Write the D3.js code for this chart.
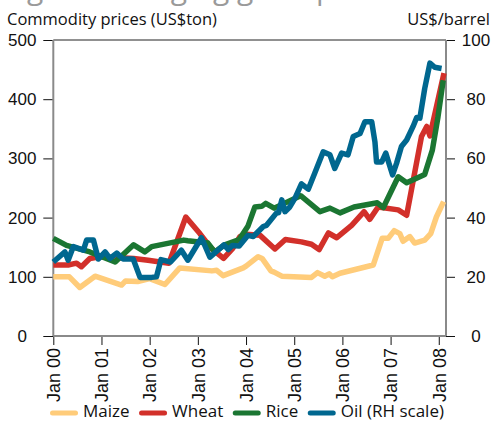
<!DOCTYPE html>
<html>
<head>
<meta charset="utf-8">
<script src="https://cdn.jsdelivr.net/npm/d3@7"></script>
<style>
  body { margin: 0; background: #fff; }
  svg { display: block; font-family: "Open Sans", "Noto Sans", sans-serif; }
</style>
</head>
<body>
<div id="chart"></div>
<script>
// ========== DATA ==========
// months counted from Jan 2000
const maizeMonths = [0, 4, 6.6, 10.4, 17, 18, 21, 24, 27.8, 31.5, 39.5, 40.7, 42.3, 47.3, 48, 51, 52, 54.2, 55, 56.9, 64.3, 65.8, 67.6, 68.7, 69.5, 71.4, 79.7, 81.9, 83.4, 84.9, 86.3, 87.1, 88.8, 90, 92.5, 94, 95.4, 97.2];
const maizeValues = [100, 100, 82, 101, 86, 93, 92, 97, 87, 115, 110, 111, 102, 115, 118, 134, 131, 110, 108, 101, 99, 107, 101, 105, 100, 106, 120, 165, 165, 178, 173, 160, 168, 157, 162, 173, 201, 227];

const wheatMonths = [0, 3.7, 5.8, 7, 9.1, 11.6, 20, 23.6, 28.8, 33, 36.5, 39.2, 42.4, 44.7, 46.5, 48, 51.5, 55.2, 57.8, 61.8, 64.3, 66.2, 68.5, 70.6, 74.3, 77.4, 78.8, 80.9, 85.9, 88, 91.7, 93, 93.8, 97.3];
const wheatValues = [120, 120, 123, 117, 131, 134, 131, 128, 123, 201, 173, 149, 131, 148, 168, 172, 170, 147, 163, 159, 155, 146, 174, 166, 187, 210, 197, 218, 213, 204, 337, 354, 338, 444];

const riceMonths = [0, 3.3, 9.1, 15.4, 20, 22.8, 24.5, 32.5, 33.5, 38.5, 40.2, 42.7, 46.3, 48.5, 50.2, 51.9, 52.9, 55, 61.6, 66.4, 68.9, 71.4, 74.9, 80.7, 82.2, 85.9, 88, 92.5, 94.4, 95.8, 97.1];
const riceValues = [165, 153, 142, 125, 154, 142, 151, 162, 161, 157, 142, 154, 163, 186, 218, 219, 224, 216, 237, 210, 216, 208, 218, 225, 217, 269, 259, 273, 314, 370, 432];

const oilMonths = [0, 2.9, 3.7, 5, 7.5, 8.3, 10, 11.2, 12.9, 14.1, 15.8, 17.4, 19.9, 21.6, 24.5, 25.7, 26.8, 29.2, 31.9, 33.5, 36.9, 39, 42.5, 43.6, 44.6, 46.3, 48.5, 49.8, 52.3, 53.1, 55.6, 56.1, 56.9, 57.7, 58.9, 60.2, 61.8, 63.5, 65.1, 67.2, 68.9, 70.1, 71.8, 73.4, 74.7, 76.4, 77.6, 79.3, 80.1, 80.5, 81.8, 82.8, 84.5, 85.5, 86.7, 88, 89.6, 90.5, 91.3, 92.5, 93.8, 95, 96.7];
const oilValues = [25, 28.4, 25.6, 30.2, 29, 32.4, 32.4, 26, 28.4, 26.2, 28, 26, 26, 19.8, 19.8, 20, 25.8, 25, 29, 25.6, 33.2, 26.6, 30.8, 29.2, 30.6, 30.4, 34, 33.6, 37, 37.4, 41.6, 41.6, 46, 42, 43.6, 46.6, 51.4, 49.6, 55, 62.2, 61.2, 56.6, 61.8, 61.2, 67.4, 68.4, 72.4, 72.4, 65.6, 58.8, 58.8, 61.8, 54.4, 58.4, 64, 66.2, 70.8, 73.8, 73.6, 83.6, 92.2, 90.8, 90.4];

const xTickMonths = [0, 12, 24, 36, 48, 60, 72, 84, 96];
const xTickLabels = ["Jan 00", "Jan 01", "Jan 02", "Jan 03", "Jan 04", "Jan 05", "Jan 06", "Jan 07", "Jan 08"];
const leftTicks = [0, 100, 200, 300, 400, 500];
const rightTicks = [0, 20, 40, 60, 80, 100];

const seriesNames = ["Maize", "Wheat", "Rice", "Oil (RH scale)"];
const seriesColors = ["#ffcc7a", "#d2302a", "#1b7632", "#00678f"];

// ========== CHART ==========
const width = 492, height = 421;
const plot = { left: 53.3, right: 446, top: 40, bottom: 336 };

const svg = d3.select("#chart").append("svg")
  .attr("width", width)
  .attr("height", height);

const x = d3.scaleLinear().domain([0, 97.8]).range([plot.left, plot.right]);
const yLeft = d3.scaleLinear().domain([0, 500]).range([plot.bottom, plot.top]);
const yRight = d3.scaleLinear().domain([0, 100]).range([plot.bottom, plot.top]);

// cut-off heading at the very top
svg.append("text")
  .attr("x", 4)
  .attr("y", -1)
  .style("font-size", "30px")
  .style("fill", "#9a9a9a")
  .text("Figure 1 Surging grain prices");

svg.append("text")
  .attr("x", 7)
  .attr("y", 25)
  .style("font-size", "16.5px")
  .style("fill", "#111")
  .text("Commodity prices (US$ton)");

svg.append("text")
  .attr("x", 490)
  .attr("y", 25)
  .attr("text-anchor", "end")
  .style("font-size", "16.5px")
  .style("fill", "#111")
  .text("US$/barrel");

// axes
function styleAxis(g, size) {
  g.select(".domain").remove();
  g.selectAll(".tick line").attr("stroke", "#111");
  g.selectAll(".tick text").style("font-size", size).attr("fill", "#111");
}

const leftAxis = svg.append("g")
  .attr("transform", `translate(${plot.left},0)`)
  .call(d3.axisLeft(yLeft).tickValues(leftTicks).tickSize(10))
  .call(styleAxis, "17px");
leftAxis.selectAll(".tick text").attr("x", -31).attr("text-anchor", "middle");

const rightAxis = svg.append("g")
  .attr("transform", `translate(${plot.right},0)`)
  .call(d3.axisRight(yRight).tickValues(rightTicks).tickSize(9))
  .call(styleAxis, "17px");
rightAxis.selectAll(".tick text").attr("x", 30).attr("text-anchor", "middle");

const bottomAxis = svg.append("g")
  .attr("transform", `translate(0,${plot.bottom})`)
  .call(d3.axisBottom(x).tickValues(xTickMonths).tickSize(9)
    .tickFormat((d, i) => xTickLabels[i]))
  .call(styleAxis, "18px");
bottomAxis.selectAll(".tick text")
  .attr("transform", "rotate(-90)")
  .attr("x", -12)
  .attr("y", 0)
  .attr("dy", "0.35em")
  .attr("text-anchor", "end");

// frame lines
svg.append("line")
  .attr("x1", plot.left).attr("x2", plot.right)
  .attr("y1", yLeft(500)).attr("y2", yLeft(500))
  .attr("stroke", "#222").attr("stroke-width", 1);
[plot.left, plot.right].forEach(px => {
  svg.append("line")
    .attr("x1", px).attr("x2", px)
    .attr("y1", plot.top).attr("y2", plot.bottom)
    .attr("stroke", "#8a8a8a").attr("stroke-width", 2);
});
svg.append("line")
  .attr("x1", plot.left).attr("x2", plot.right)
  .attr("y1", plot.bottom).attr("y2", plot.bottom)
  .attr("stroke", "#8a8a8a").attr("stroke-width", 2);

// series
const series = [
  { months: maizeMonths, values: maizeValues, y: yLeft },
  { months: wheatMonths, values: wheatValues, y: yLeft },
  { months: riceMonths, values: riceValues, y: yLeft },
  { months: oilMonths, values: oilValues, y: yRight }
];

series.forEach((s, i) => {
  const line = d3.line()
    .x((d, j) => x(s.months[j]))
    .y(d => s.y(d));
  svg.append("path")
    .datum(s.values)
    .attr("d", line)
    .attr("fill", "none")
    .attr("stroke", seriesColors[i])
    .attr("stroke-width", 5.5)
    .attr("stroke-linejoin", "round")
    .attr("stroke-linecap", "butt");
});

// legend
const legend = svg.append("g").attr("transform", "translate(0,413)");
let lx = 52.5;
seriesNames.forEach((name, i) => {
  legend.append("line")
    .attr("x1", lx).attr("x2", lx + 23)
    .attr("y1", 0).attr("y2", 0)
    .attr("stroke", seriesColors[i])
    .attr("stroke-width", 5)
    .attr("stroke-linecap", "round");
  const t = legend.append("text")
    .attr("x", lx + 30.5)
    .attr("y", 3.5)
    .style("font-size", "17px")
    .style("fill", "#111")
    .text(name);
  lx += 30.5 + t.node().getComputedTextLength() + 12;
});
</script>
</body>
</html>
